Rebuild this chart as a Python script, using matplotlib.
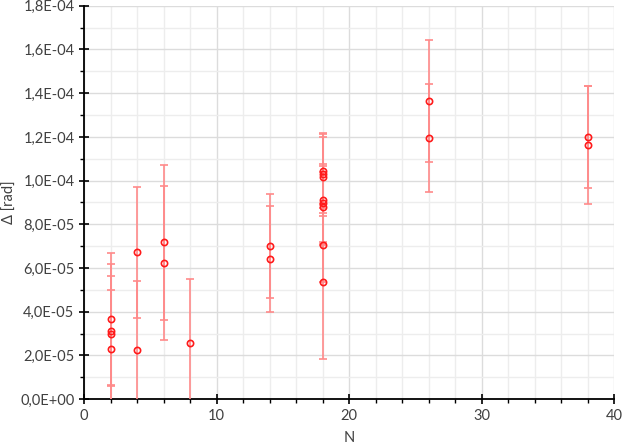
import numpy as np
import matplotlib.pyplot as plt
from matplotlib.ticker import MultipleLocator, FuncFormatter

# measurements (values in 1e-5 rad)
n_vals = [2, 2, 2, 2, 4, 4, 6, 6, 8, 14, 14,
          18, 18, 18, 18, 18, 18, 18, 18, 26, 26, 38, 38]
delta = [3.66, 3.13, 2.98, 2.30, 6.72, 2.24, 7.17, 6.24, 2.55, 6.99, 6.40,
         10.44, 10.31, 10.15, 9.10, 8.96, 8.81, 7.07, 5.37, 13.65, 11.95, 12.01, 11.62]
err_lo = [3.04, 2.50, 3.22, 2.69, 2.99, 3.18, 3.55, 3.53, 2.93, 2.38, 2.42,
          1.70, 1.81, 1.76, 2.00, 1.92, 1.62, 1.70, 3.54, 2.79, 2.46, 2.33, 2.70]
err_hi = [3.04, 2.50, 3.22, 2.69, 2.99, 3.18, 3.55, 3.53, 2.93, 2.38, 2.42,
          1.76, 1.81, 1.85, 1.68, 1.73, 1.60, 1.80, 3.54, 2.79, 2.46, 2.33, 2.70]

scale = 1e-5
y = np.array(delta) * scale
yerr = [np.array(err_lo) * scale, np.array(err_hi) * scale]

plt.rcParams['font.family'] = ['Lato', 'DejaVu Sans']

fig = plt.figure(figsize=(6.23, 4.45), dpi=100)
ax = fig.add_axes([0.135, 0.103, 0.851, 0.884])

ax.errorbar(n_vals, y, yerr=yerr, fmt='o', markersize=4.5, mfc='none',
            mec='#ff1a1a', mew=1.2, ecolor='#ff8a8a', elinewidth=1.2,
            capsize=3, capthick=1.0, zorder=3)

ax.set_xlim(0, 40)
ax.set_ylim(0, 1.8e-4)
ax.xaxis.set_major_locator(MultipleLocator(10))
ax.xaxis.set_minor_locator(MultipleLocator(2))
ax.yaxis.set_major_locator(MultipleLocator(2e-5))
ax.yaxis.set_minor_locator(MultipleLocator(1e-5))
ax.yaxis.set_major_formatter(FuncFormatter(lambda v, p: f"{v:.1E}".replace('.', ',')))

ax.grid(which='major', color='#dcdcdc', linewidth=1.0, zorder=0)
ax.grid(which='minor', color='#ededed', linewidth=1.0, zorder=0)
ax.set_axisbelow(True)

for s in ['top', 'right']:
    ax.spines[s].set_visible(False)
for s in ['left', 'bottom']:
    ax.spines[s].set_linewidth(1.3)
    ax.spines[s].set_color('black')

ax.tick_params(which='major', direction='inout', length=7, width=1.2, colors='black',
               labelcolor='#404040', labelsize=10.5)
ax.tick_params(which='minor', direction='out', length=3, width=1.0, colors='black')

ax.set_xlabel('N', color='#404040', fontsize=10.5, labelpad=6)
ax.set_ylabel('Δ [rad]', color='#404040', fontsize=10.5, labelpad=2)

fig.savefig('out.png', dpi=100)
